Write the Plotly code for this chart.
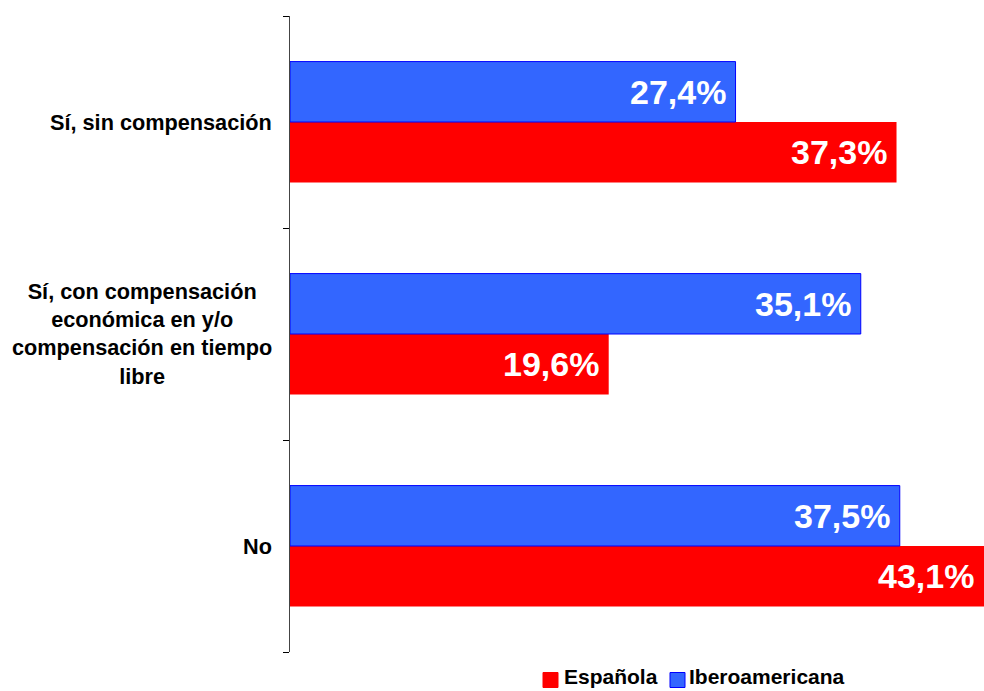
import plotly.graph_objects as go

# Categories listed from top to bottom
categories = [
    "Sí, sin compensación",
    "Sí, con compensación<br>económica en y/o<br>compensación en tiempo<br>libre",
    "No",
]
espanola = [37.3, 19.6, 43.1]
iberoamericana = [27.4, 35.1, 37.5]
series_names = ["Española", "Iberoamericana"]

RED = "#FF0000"
BLUE = "#3366FF"
BLUE_EDGE = "#0000FF"
FONT = "Liberation Sans, Arial, sans-serif"
X_MAX = 42.68
BARGAP = 0.43

W, H = 984, 691
M_L, M_R, M_T, M_B = 290, 0, 16, 39
plot_w = W - M_L - M_R
plot_h = H - M_T - M_B

fig = go.Figure()
fig.add_trace(go.Bar(
    name=series_names[0], y=categories, x=espanola, orientation="h",
    marker=dict(color=RED, line=dict(color=RED, width=0)),
))
fig.add_trace(go.Bar(
    name=series_names[1], y=categories, x=iberoamericana, orientation="h",
    marker=dict(color=BLUE, line=dict(color=BLUE_EDGE, width=1)),
))

# Value labels at the visible end of each bar
band_px = plot_h / len(categories)
bar_px = band_px * (1 - BARGAP) / 2


def pct(v):
    return f"{v:.1f}".replace(".", ",") + "%"


annotations = []
for cat, ve, vi in zip(categories, espanola, iberoamericana):
    for v, shift in ((ve, -bar_px / 2), (vi, bar_px / 2)):
        annotations.append(dict(
            x=min(v, X_MAX), y=cat, xref="x", yref="y",
            text=pct(v), showarrow=False, xanchor="right", yanchor="middle",
            xshift=-8, yshift=shift,
            font=dict(family=FONT, size=34, color="white", weight="bold"),
        ))
    # Category label, centred lines, right edge near the axis
    annotations.append(dict(
        x=0, y=cat, xref="paper", yref="y", text=cat, showarrow=False,
        xanchor="right", yanchor="middle", align="center", xshift=-16,
        font=dict(family=FONT, size=21.7, color="black", weight="bold"),
    ))


# Legend drawn below the plot: swatch + name for each series
def px_x(p):
    return (p - M_L) / plot_w


def px_y(p):
    return (H - M_B - p) / plot_h


shapes = []
legend_items = [
    (series_names[0], RED, RED, 543, 563),
    (series_names[1], BLUE, BLUE_EDGE, 670, 688),
]
SWATCH_Y = 680
SWATCH = 15
TEXT_Y = 676.5
for name, fill, edge, sx, tx in legend_items:
    shapes.append(dict(
        type="rect", xref="paper", yref="paper",
        x0=px_x(sx), x1=px_x(sx + SWATCH),
        y0=px_y(SWATCH_Y + SWATCH / 2), y1=px_y(SWATCH_Y - SWATCH / 2),
        fillcolor=fill, line=dict(color=edge, width=1),
    ))
    annotations.append(dict(
        x=px_x(tx), y=px_y(TEXT_Y), xref="paper", yref="paper", text=name,
        showarrow=False, xanchor="left", yanchor="middle", borderpad=0,
        font=dict(family=FONT, size=21, color="black", weight="bold"),
    ))

fig.update_layout(
    width=W, height=H,
    margin=dict(l=M_L, r=M_R, t=M_T, b=M_B, autoexpand=False),
    paper_bgcolor="white", plot_bgcolor="white",
    barmode="group", bargap=BARGAP, bargroupgap=0,
    showlegend=False,
    xaxis=dict(range=[0, X_MAX], visible=False, showgrid=False, zeroline=False),
    yaxis=dict(
        categoryorder="array", categoryarray=list(reversed(categories)),
        showticklabels=False, showgrid=False, zeroline=False,
        showline=True, linecolor="#444444", linewidth=1,
        ticks="outside", tickson="boundaries", ticklen=6, tickcolor="#000000",
        range=[-0.5, 2.5],
    ),
    annotations=annotations,
    shapes=shapes,
)

fig.write_html("out.html")
